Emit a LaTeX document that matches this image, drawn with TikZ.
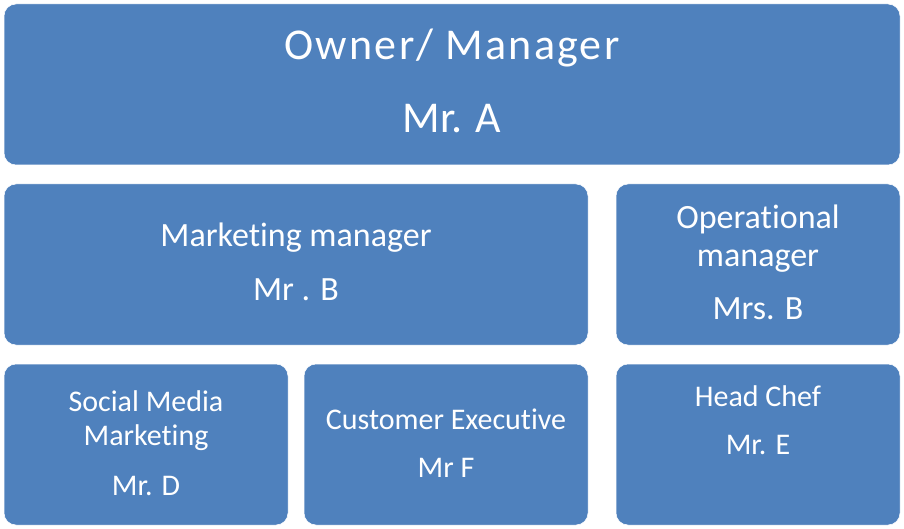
\documentclass[tikz,border=0pt]{standalone}
\usepackage{fontspec}
\setmainfont[Ligatures={NoCommon,NoContextual,NoRequired},Contextuals=NoAlternate]{Carlito}
\definecolor{boxblue}{HTML}{4F81BD}
\newcommand{\tiparts}{t\kern0pt i}
\tikzset{
  box/.style={rectangle, rounded corners=12pt, fill=boxblue, draw=white, line width=0.5pt, inner sep=0pt},
  txt/.style={anchor=base, text=white, inner sep=0pt},
  fxl/.style={font=\fontsize{44}{50}\selectfont},
  fxlw/.style={font=\fontsize{44}{50}\selectfont\addfontfeature{LetterSpace=5}},
  fl/.style={font=\fontsize{34}{40}\selectfont},
  fm/.style={font=\fontsize{30}{36}\selectfont},
}
\begin{document}
\begin{tikzpicture}[x=1pt,y=-1pt]
\useasboundingbox (0,0) rectangle (904,529);
% boxes
\node[box, minimum width=896pt, minimum height=161pt] (owner) at (452,84.5) {};
\node[box, minimum width=584pt, minimum height=161pt] (mkt) at (296,264.5) {};
\node[box, minimum width=284pt, minimum height=161pt] (ops) at (758,264.5) {};
\node[box, minimum width=284pt, minimum height=161pt] (smm) at (146,444.5) {};
\node[box, minimum width=284pt, minimum height=161pt] (cust) at (446,444.5) {};
\node[box, minimum width=284pt, minimum height=161pt] (chef) at (758,444.5) {};
% texts
\node[txt, fxlw] (t1) at (452,60) {Owner/ Manager};
\node[txt, fxl] (t2) at (452,133) {Mr. A};
\node[txt, fl] (t3) at (296,246.7) {Marke\tiparts ng manager};
\node[txt, fl] (t4) at (296,300.7) {Mr . B};
\node[txt, fl] (t5) at (758,228.3) {Opera\tiparts onal};
\node[txt, fl] (t6) at (758,266.7) {manager};
\node[txt, fl] (t7) at (758,319) {Mrs. B};
\node[txt, fm] (t8) at (146,411.7) {Social Media};
\node[txt, fm] (t9) at (146,445) {Marke\tiparts ng};
\node[txt, fm] (t10) at (146,495) {Mr. D};
\node[txt, fm] (t11) at (446,429.3) {Customer Execu\tiparts ve};
\node[txt, fm] (t12) at (446,477.7) {Mr F};
\node[txt, fm] (t13) at (758,406.7) {Head Chef};
\node[txt, fm] (t14) at (758,454) {Mr. E};
\end{tikzpicture}
\end{document}
